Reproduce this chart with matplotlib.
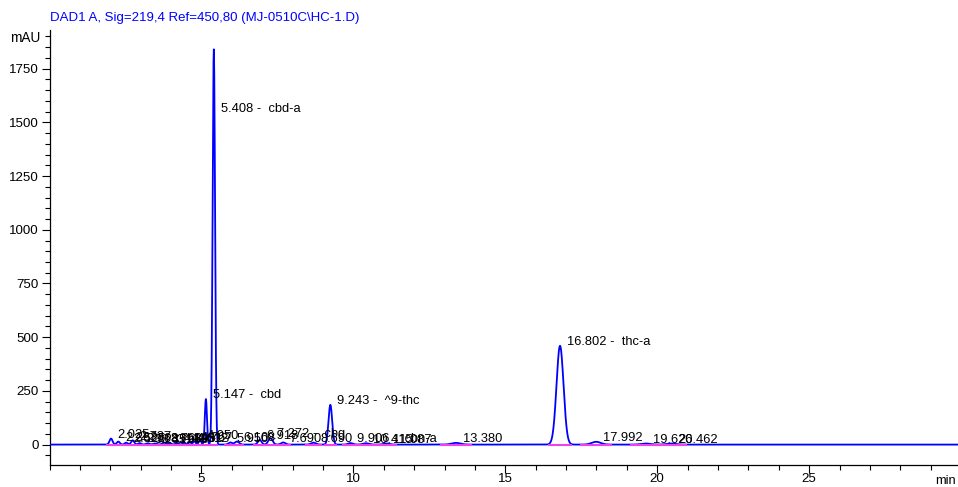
import numpy as np
import matplotlib
matplotlib.use("Agg")
import matplotlib.pyplot as plt
from matplotlib.ticker import MultipleLocator

plt.rcParams['font.family'] = ['Liberation Sans', 'DejaVu Sans']

# ---- data ----
peak_rt = [2.025, 2.263, 2.525, 2.737, 2.968, 3.235, 3.471, 3.768, 3.968, 4.195,
           4.431, 4.612, 4.767, 4.950, 5.147, 5.408, 5.950, 6.168, 6.918, 7.272,
           7.690, 8.690, 9.243, 9.906, 10.415, 11.087, 13.380, 16.802, 17.992,
           19.626, 20.462]
peak_height = [28, 14, 9, 20, 7, 6, 5, 9, 6, 7,
               8, 10, 16, 22, 212, 1840, 10, 14, 22, 30,
               10, 9, 185, 7, 6, 5, 8, 460, 13,
               5, 5]
peak_sigma = [0.05, 0.05, 0.05, 0.05, 0.05, 0.06, 0.06, 0.06, 0.05, 0.05,
              0.05, 0.05, 0.04, 0.04, 0.035, 0.04, 0.06, 0.07, 0.06, 0.07,
              0.07, 0.08, 0.06, 0.08, 0.1, 0.1, 0.15, 0.115, 0.15,
              0.15, 0.15]
peak_label = ["2.025", "2.263", "2.525", "2.737", "2.968", "3.235", "3.471", "3.768",
              "3.968", "4.195", "4.431", "4.612", "4.767", "4.950", "5.147 -  cbd",
              "5.408 -  cbd-a", "5.950", "6.168", "6.918", "7.272 -  cbg",
              "7.690", "8.690", "9.243 -  ^9-thc", "9.906 -  cbn-a", "10.415",
              "11.087", "13.380", "16.802 -  thc-a", "17.992", "19.626", "20.462"]

title = "DAD1 A, Sig=219,4 Ref=450,80 (MJ-0510C\\HC-1.D)"
x_ticks = [5, 10, 15, 20, 25]
y_ticks = [0, 250, 500, 750, 1000, 1250, 1500, 1750]

# ---- build the trace ----
t = np.linspace(0, 29.9, 6000)
signal = np.zeros_like(t)
for rt, h, s in zip(peak_rt, peak_height, peak_sigma):
    signal += h * np.exp(-0.5 * ((t - rt) / s) ** 2)

fig = plt.figure(figsize=(9.58, 4.87), dpi=100)
ax = fig.add_axes([49.5 / 958, 22 / 487, (958 - 49.5) / 958, 435 / 487])

blue = '#0000ff'
ax.plot(t, signal, color=blue, lw=1.3, zorder=3)

# integration baselines (magenta)
for rt, s in zip(peak_rt, peak_sigma):
    ax.plot([rt - 3.5 * s, rt + 3.5 * s], [-3, -3], color='#f040f0', lw=1.5,
            zorder=4, solid_capstyle='butt')

# peak labels
for rt, h, lab in zip(peak_rt, peak_height, peak_label):
    y = h + 17
    if h > 1000:
        y = 1560
    ax.text(rt + 0.22, y, lab, fontsize=9.3, va='center', ha='left', zorder=5)

ax.set_xlim(0, 29.9)
ax.set_ylim(-95, 1930)
ax.set_xticks(x_ticks)
ax.set_yticks(y_ticks)
ax.xaxis.set_minor_locator(MultipleLocator(1))
ax.yaxis.set_minor_locator(MultipleLocator(50))
ax.tick_params(axis='both', which='major', direction='out', length=5.5,
               width=0.8, labelsize=9.6)
ax.tick_params(axis='x', which='major', pad=0.5)
ax.tick_params(axis='y', which='major', pad=2.5)
ax.tick_params(axis='both', which='minor', direction='out', length=3.5, width=0.8)
for sp in ['top', 'right']:
    ax.spines[sp].set_visible(False)
for sp in ['left', 'bottom']:
    ax.spines[sp].set_linewidth(0.9)

fig.text(50 / 958, 1 - 18 / 487, title, color=blue, fontsize=9.5,
         ha='left', va='center')
fig.text(40 / 958, 1 - 38 / 487, "mAU", fontsize=9.8, ha='right', va='center')
fig.text(945 / 958, 1 - 481 / 487, "min", fontsize=9.3, ha='center', va='center')

fig.savefig("out.png", dpi=100)
